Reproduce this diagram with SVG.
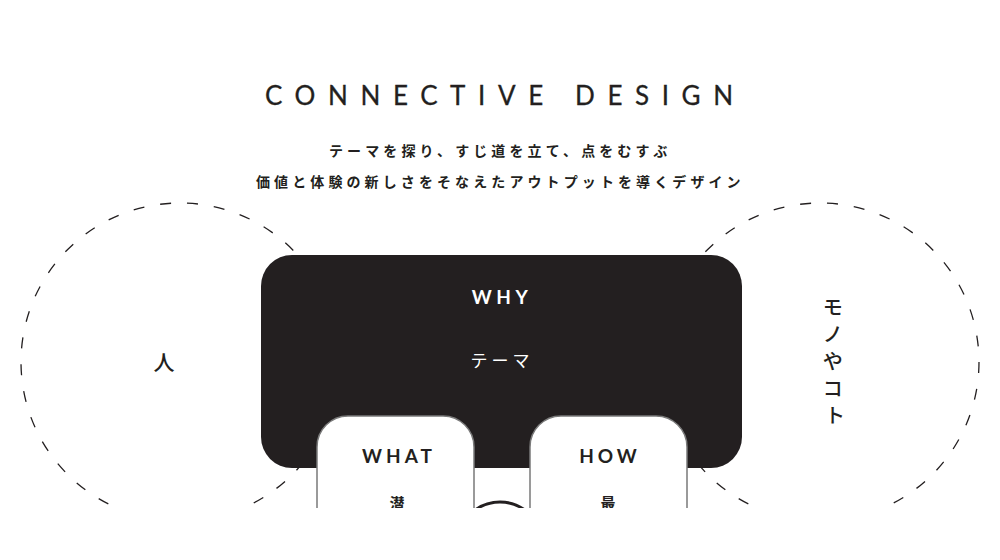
<svg xmlns="http://www.w3.org/2000/svg" width="1000" height="560" viewBox="0 0 1000 560">
  <defs>
    <clipPath id="cut">
      <rect x="0" y="0" width="1000" height="508"/>
    </clipPath>
    <style>
      .ring { fill: none; stroke: #231f20; stroke-width: 1.3; stroke-dasharray: 11 16; }
      .en { font-family: Lato, "Noto Sans", "Liberation Sans", sans-serif; }
      .jp { font-family: "Noto Sans CJK JP", "Noto Sans", sans-serif; }
      .card { fill: #ffffff; stroke: #7a7a7a; stroke-width: 1.5; }
      .ink { fill: #231f20; }
    </style>
  </defs>
  <rect width="1000" height="560" fill="#ffffff"/>

  <g id="header">
    <text class="en ink" x="265" y="105" font-size="26" font-weight="400" letter-spacing="12.6" stroke="#231f20" stroke-width="0.3">CONNECTIVE DESIGN</text>
    <text class="jp ink" x="329" y="156" font-size="14" font-weight="700" letter-spacing="4.1">テーマを探り、すじ道を立て、点をむすぶ</text>
    <text class="jp ink" x="256" y="187" font-size="14" font-weight="700" letter-spacing="4.1">価値と体験の新しさをそなえたアウトプットを導くデザイン</text>
  </g>

  <g clip-path="url(#cut)">
    <g id="node-hito">
      <circle class="ring" cx="180" cy="362" r="159"/>
      <text class="jp ink" x="164" y="370" font-size="21" font-weight="500" text-anchor="middle">人</text>
    </g>
    <g id="node-monoyakoto">
      <circle class="ring" cx="820" cy="362" r="159"/>
      <text class="jp ink" font-size="20" font-weight="500" text-anchor="middle">
        <tspan x="835" y="315">モ</tspan>
        <tspan x="835" y="342">ノ</tspan>
        <tspan x="835" y="369">や</tspan>
        <tspan x="835" y="396">コ</tspan>
        <tspan x="835" y="423">ト</tspan>
      </text>
    </g>
    <g id="node-why">
      <rect x="261" y="255" width="481" height="213" rx="31" fill="#231f20"/>
      <text class="en" x="502" y="304" font-size="19" font-weight="700" fill="#ffffff" text-anchor="middle" letter-spacing="4.5">WHY</text>
      <text class="jp" x="502" y="367" font-size="17" font-weight="400" fill="#ffffff" text-anchor="middle" letter-spacing="4">テーマ</text>
    </g>
    <g id="node-center">
      <circle cx="500" cy="544" r="42" fill="none" stroke="#231f20" stroke-width="3"/>
    </g>
    <g id="node-what">
      <rect class="card" x="317" y="416" width="157" height="220" rx="31"/>
      <text class="en ink" x="399" y="463" font-size="19" font-weight="700" text-anchor="middle" letter-spacing="4">WHAT</text>
      <text class="jp ink" x="397" y="509" font-size="15" font-weight="700" text-anchor="middle">潜</text>
    </g>
    <g id="node-how">
      <rect class="card" x="530" y="416" width="157" height="220" rx="31"/>
      <text class="en ink" x="610" y="463" font-size="19" font-weight="700" text-anchor="middle" letter-spacing="4">HOW</text>
      <text class="jp ink" x="608" y="509" font-size="15" font-weight="700" text-anchor="middle">最</text>
    </g>
  </g>
</svg>
